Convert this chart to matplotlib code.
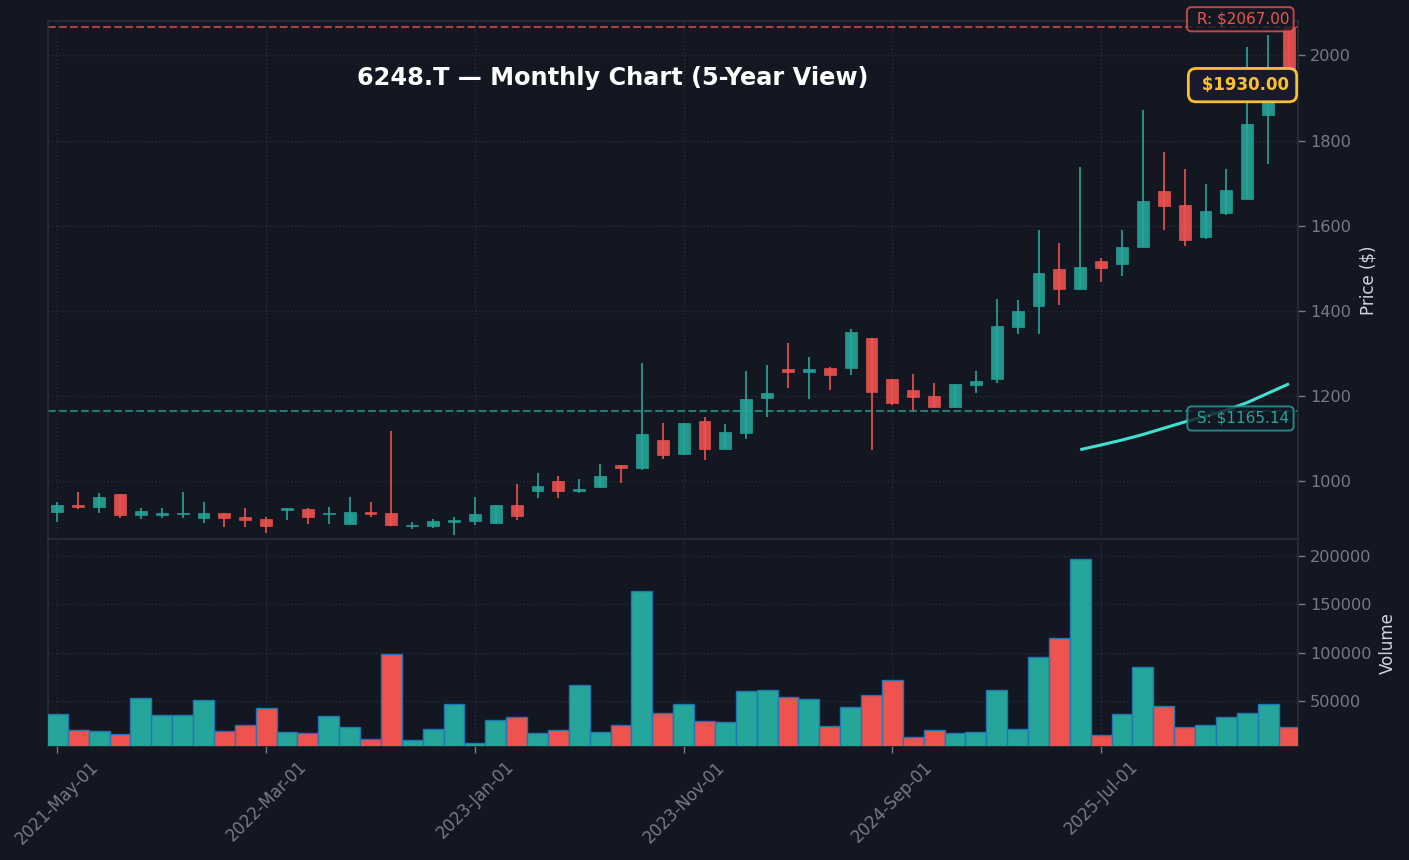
import matplotlib
matplotlib.use("Agg")
import matplotlib.pyplot as plt
from matplotlib.patches import Rectangle

BG = "#131722"
GRID = "#2a2e39"
TICK = "#787b86"
LABEL = "#d1d4dc"
UP = "#26a69a"
DOWN = "#ef5350"
GOLD = "#fbc02d"

tick_positions = [0, 10, 20, 30, 40, 50]
tick_labels = ["2021-May-01", "2022-Mar-01", "2023-Jan-01", "2023-Nov-01", "2024-Sep-01", "2025-Jul-01"]

opens = [928, 944.4, 940, 970, 921, 921, 923.3, 914, 925.7, 917,
         911.6, 932.7, 935, 923.3, 900, 928, 925.7, 895, 895, 904.6,
         907, 902, 944, 977, 1001, 977, 987, 1038, 1031, 1097,
         1064, 1142, 1076, 1114, 1196, 1264, 1257, 1266.5, 1267, 1337,
         1240, 1215, 1201, 1175, 1227, 1241, 1363, 1412, 1499.5, 1452,
         1517, 1510, 1550, 1681, 1648, 1572.5, 1631, 1662, 1859.5, 2067]
closes = [944.4, 939.8, 963, 921, 930, 926, 926.5, 925.7, 914, 909,
          895, 937.4, 916.3, 926.5, 928, 923.3, 897.5, 898, 907, 909.3,
          923, 944, 918.5, 989, 977, 982, 1012.5, 1031, 1111, 1062,
          1137, 1076, 1116, 1194, 1208, 1257, 1264, 1250, 1351, 1210,
          1184, 1198, 1175, 1229, 1236, 1365, 1401, 1488, 1452, 1502,
          1500, 1550, 1657, 1646, 1566, 1634, 1683, 1838, 1930, 1930]
highs = [950.7, 974, 972, 970, 937, 937, 974, 950.7, 925.7, 937,
         917, 937.4, 938, 940.5, 962.4, 952, 1119, 905, 912.4, 915.5,
         964, 944, 994.5, 1020, 1013, 1006, 1041.5, 1038, 1277, 1136,
         1137, 1152, 1135.6, 1258, 1272, 1324, 1293, 1268, 1358, 1337,
         1240, 1251, 1232, 1229, 1258, 1427, 1425, 1590, 1559, 1738,
         1524, 1590, 1872, 1773, 1733, 1699, 1733, 2018.7, 2047, 2067]
lows = [905.3, 936, 925, 915, 911, 915, 915, 903, 893, 893.6,
        879.5, 908.5, 900.7, 900.7, 900, 917, 896, 887.4, 891.3, 874.9,
        896.5, 900, 910, 960, 962, 972, 987, 997, 1026, 1052,
        1064, 1049, 1076, 1099, 1150.5, 1219, 1193, 1214, 1249, 1073,
        1179, 1165.5, 1173, 1173, 1207, 1231, 1346, 1346, 1414, 1449,
        1468, 1482, 1550, 1590.6, 1552, 1568, 1626, 1662, 1746, 1930]
volumes = [36500, 20700, 19000, 15800, 53000, 35500, 35500, 51000, 19000, 25000,
           42800, 18000, 17000, 34500, 23000, 10700, 98600, 9600, 21000, 47000,
           6500, 30300, 33800, 17000, 20300, 67000, 18000, 25500, 164000, 38000,
           47000, 29500, 28500, 60500, 61700, 54500, 52400, 24500, 44000, 56500,
           72000, 13200, 20300, 17200, 18200, 61700, 21400, 96000, 115000, 197000,
           15200, 37000, 85500, 45000, 23400, 25500, 33800, 38000, 47000, 23400]
trend_x = [49, 50, 51, 52, 53, 54, 55, 56, 57, 58, 59]
trend_y = [1074.5, 1085.5, 1097, 1110, 1124.7, 1139.5, 1153, 1167, 1185, 1207, 1229]
resistance = 2067.00
support = 1165.14
last_price = 1930.00

W, H = 1409, 860
fig = plt.figure(figsize=(W / 100, H / 100), dpi=100, facecolor=BG)
L, R = 48, 1298
ax = fig.add_axes([L / W, (H - 539.3) / H, (R - L) / W, (539.3 - 21) / H], facecolor=BG)
vax = fig.add_axes([L / W, (H - 746) / H, (R - L) / W, (746 - 539.3) / H], facecolor=BG, sharex=ax)

xs = list(range(len(opens)))
colors = [UP if c >= o else DOWN for o, c in zip(opens, closes)]
body_w = 0.57

for x, o, c, h, l, col in zip(xs, opens, closes, highs, lows, colors):
    ax.vlines(x, l, h, color=col, linewidth=1.2, zorder=3)
    ax.add_patch(Rectangle((x - body_w / 2, min(o, c)), body_w, abs(c - o), facecolor=col,
                           edgecolor=col, linewidth=0.5, alpha=0.9, zorder=4))

ax.axhline(resistance, color=DOWN, linestyle="--", linewidth=1.5, alpha=0.7, zorder=2)
ax.axhline(support, color=UP, linestyle="--", linewidth=1.5, alpha=0.7, zorder=2)
ax.plot(trend_x, trend_y, color="#40e0d0", linewidth=2.2, zorder=5, solid_capstyle="butt")

ax.annotate(f" R: ${resistance:.2f}", xy=(59, resistance), xytext=(0, 0), textcoords="offset points",
            ha="right", va="bottom", color=DOWN, fontsize=11, zorder=7, annotation_clip=False,
            bbox=dict(boxstyle="round,pad=0.3", facecolor=BG, edgecolor=DOWN, linewidth=1.4, alpha=0.8))
ax.annotate(f" S: ${support:.2f}", xy=(59, support), xytext=(0, 0), textcoords="offset points",
            ha="right", va="top", color=UP, fontsize=11, zorder=7, annotation_clip=False,
            bbox=dict(boxstyle="round,pad=0.3", facecolor=BG, edgecolor=UP, linewidth=1.4, alpha=0.8))
ax.annotate(f" ${last_price:.2f}", xy=(59, last_price), xytext=(0, 0), textcoords="offset points",
            ha="right", va="center", color=GOLD, fontsize=12, fontweight="bold", zorder=8, annotation_clip=False,
            bbox=dict(boxstyle="round,pad=0.46", facecolor="#1a1a2e", edgecolor=GOLD, linewidth=2))

vax.bar(xs, volumes, width=1.0, color=colors, edgecolor="#1f77b4", linewidth=1.0, zorder=3)

for a in (ax, vax):
    a.yaxis.tick_right()
    a.yaxis.set_label_position("right")
    a.grid(True, color=GRID, linestyle=":", linewidth=1.0, zorder=0)
    a.set_axisbelow(True)
    for s in a.spines.values():
        s.set_color(GRID)
        s.set_linewidth(1.2)
    a.tick_params(axis="y", colors=TICK, labelsize=11.6, length=5, width=1, color=TICK)
    a.tick_params(axis="x", colors=TICK, labelsize=12, length=5, width=1, color=TICK)

ax.set_xlim(-0.45, 59.43)
ax.set_ylim(864, 2080.5)
vax.set_ylim(3800, 217250)
ax.set_yticks([1000, 1200, 1400, 1600, 1800, 2000])
vax.set_yticks([50000, 100000, 150000, 200000])
vax.set_xticks(tick_positions)
vax.set_xticklabels(tick_labels, rotation=45, ha="center", rotation_mode="default")
ax.tick_params(axis="x", labelbottom=False, length=0)

ax.set_ylabel("Price ($)", color=LABEL, fontsize=12, labelpad=6)
vax.set_ylabel("Volume", color=LABEL, fontsize=12, labelpad=5.5)

fig.text(612.5 / W, (H - 78) / H, "6248.T — Monthly Chart (5-Year View)", color="white",
         fontsize=17.3, fontweight="bold", ha="center", va="center", zorder=10)

fig.savefig("out.png", dpi=100, facecolor=BG)
